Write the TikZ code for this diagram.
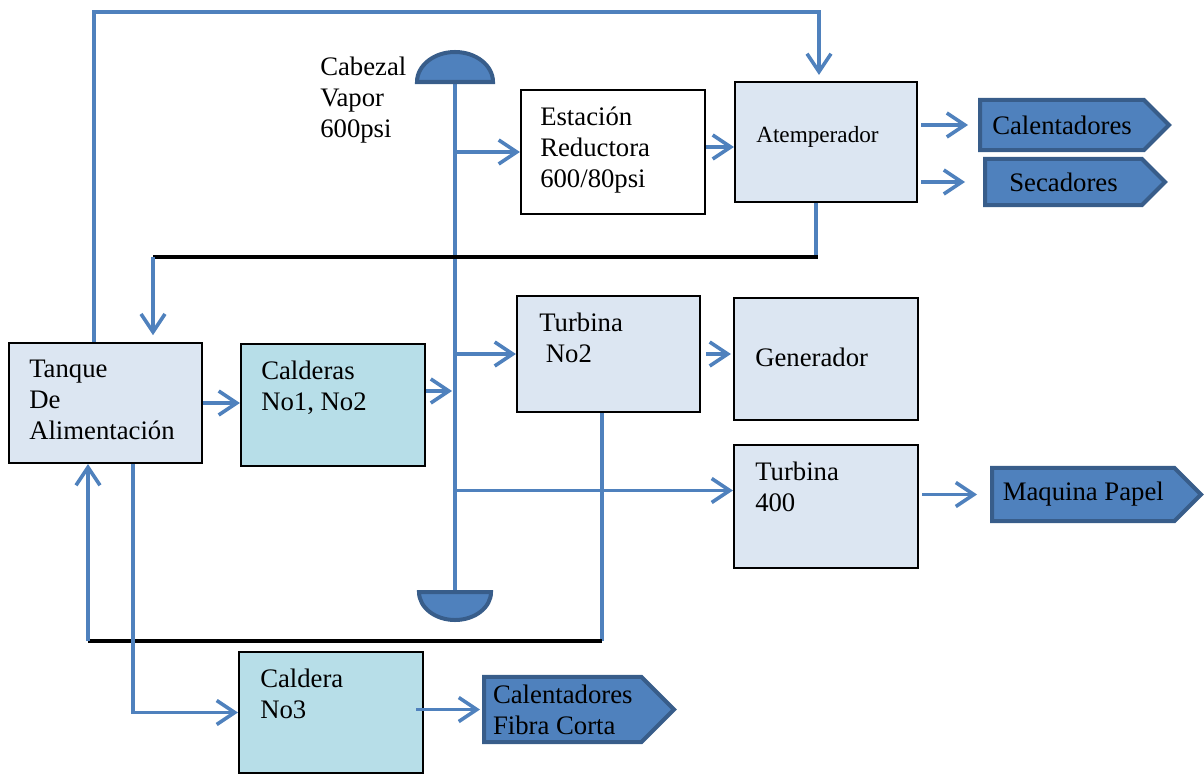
\documentclass[tikz,border=0pt]{standalone}
\usepackage{fontspec}
\setmainfont{Liberation Serif}
\usepackage{tikz}
\usetikzlibrary{arrows.meta,shapes.symbols}
\definecolor{flowblue}{HTML}{4F81BD}
\definecolor{boxfill}{HTML}{DCE6F2}
\definecolor{tealfill}{HTML}{B7DEE8}
\definecolor{sigfill}{HTML}{4F81BD}
\definecolor{sigedge}{HTML}{385D8A}
\newcommand{\boxfont}{\fontsize{19}{22}\selectfont}
\newcommand{\smallboxfont}{\fontsize{16.5}{20}\selectfont}
\tikzset{>={Straight Barb[length=0.45cm,width=0.6cm]}}
\tikzset{
  box/.style={draw=black, line width=0.05cm, fill=boxfill},
  tealbox/.style={box, fill=tealfill},
  txt/.style={inner sep=0pt, align=left, anchor=north west, font=\boxfont},
  flow/.style={draw=flowblue, line width=0.09cm},
  pipe/.style={draw=black, line width=0.1cm},
  dome/.style={draw=sigedge, fill=sigfill, line width=0.1cm},
  outlet/.style={signal, signal to=east, signal pointer angle=90, draw=sigedge,
    fill=sigfill, line width=0.1cm, font=\boxfont, inner sep=0pt, align=left}
}

\begin{document}
\begin{tikzpicture}[x=0.025cm,y=-0.025cm]
  \useasboundingbox (0,0) rectangle (1204,775);
  % boxes
  \node[box, minimum width=4.825cm, minimum height=3cm] (tanque) at (105.5,403) {};
  \node[tealbox, minimum width=4.6cm, minimum height=3.05cm] (calderas) at (333,405) {};
  \node[tealbox, minimum width=4.6cm, minimum height=3.025cm] (caldera3) at (331,712.5) {};
  \node[box, fill=white, minimum width=4.6cm, minimum height=3.1cm] (estac) at (613,152) {};
  \node[box, minimum width=4.55cm, minimum height=3cm] (atemp) at (826,142) {};
  \node[box, minimum width=4.575cm, minimum height=2.9cm] (turb2) at (608.5,354) {};
  \node[box, minimum width=4.6cm, minimum height=3.05cm] (gener) at (826,359) {};
  \node[box, minimum width=4.6cm, minimum height=3.075cm] (turb400) at (826,506.5) {};
  % box texts
  \node[txt] (tanque-t) at ([shift={(21,18)}]tanque.north west) {Tanque\\De\\Alimentación};
  \node[txt] (calderas-t) at ([shift={(21,18)}]calderas.north west) {Calderas\\No1, No2};
  \node[txt] (caldera3-t) at ([shift={(22,18)}]caldera3.north west) {Caldera\\No3};
  \node[txt] (estac-t) at ([shift={(20,18)}]estac.north west) {Estación\\Reductora\\600/80psi};
  \node[txt, anchor=west, font=\smallboxfont] (atemp-t) at ([shift={(22,-5)}]atemp.west) {Atemperador};
  \node[txt] (turb2-t) at ([shift={(23,18)}]turb2.north west) {Turbina\\\ No2};
  \node[txt, anchor=west] (gener-t) at ([shift={(22,-2)}]gener.west) {Generador};
  \node[txt] (turb400-t) at ([shift={(22,18)}]turb400.north west) {Turbina\\400};
  \node[txt] (cabezal) at (320,57) {Cabezal\\Vapor\\600psi};
  % outlets
  \node[outlet, minimum width=4.725cm, minimum height=1.25cm, anchor=west] (calent) at (978,125) {Calentadores};
  \node[outlet, minimum width=4.5cm, minimum height=1.15cm, anchor=west] (secad) at (983,182) {Secadores};
  \node[outlet, minimum width=5.225cm, minimum height=1.325cm, anchor=west] (maquina) at (990,494.5) {Maquina Papel};
  \node[outlet, minimum width=4.75cm, minimum height=1.625cm, anchor=west] (fibra) at (482,709.5) {Calentadores\\Fibra Corta};
  % header
  \coordinate (hdr-top) at (455,82);
  \coordinate (hdr-bot) at (455,592);
  \draw[flow] (hdr-top) -- (hdr-bot);
  \draw[dome] (417,82) arc[start angle=180,end angle=0,x radius=0.95cm,y radius=0.75cm] -- cycle;
  \draw[dome] (419,592) arc[start angle=180,end angle=360,x radius=0.9cm,y radius=0.7cm] -- cycle;
  % routing points
  \coordinate (top-l) at (94,12);
  \coordinate (top-r) at (819,12);
  \coordinate (ret-l) at (153,257);
  \coordinate (ret-r) at (816,257);
  \coordinate (low-l) at (88,641);
  \coordinate (low-r) at (602,641);
  \coordinate (c3-bend) at (133,712);
  \coordinate (cal-out) at ([yshift=0.35cm]calderas.east);
  \coordinate (est-out) at ([yshift=0.125cm]estac.east);
  \coordinate (t400-in) at ([yshift=0.4cm]turb400.west);
  % connectors
  \draw[flow,->,shorten >=0.15cm] (tanque.north -| top-l) -- (top-l) -- (top-r) -- (atemp.north -| top-r);
  \draw[flow] (atemp.south -| ret-r) -- (ret-r);
  \draw[pipe] (ret-l) -- ([xshift=0.05cm]ret-r);
  \draw[flow,->,shorten >=0.17cm] (ret-l) -- (tanque.north -| ret-l);
  \draw[flow,->] (estac.west -| hdr-top) -- (estac.west);
  \draw[flow,->] (turb2.west -| hdr-top) -- (turb2.west);
  \draw[flow,->] (t400-in -| hdr-top) -- (t400-in);
  \draw[flow,->] (tanque.east) -- (tanque.east -| calderas.west);
  \draw[flow,->,shorten >=0.075cm] (cal-out) -- (cal-out -| hdr-top);
  \draw[flow,->] (est-out) -- (est-out -| atemp.west);
  \draw[flow,->,shorten <=0.075cm,shorten >=0.25cm] (calent.west -| atemp.east) -- (calent.west);
  \draw[flow,->,shorten <=0.075cm,shorten >=0.45cm] (secad.west -| atemp.east) -- (secad.west);
  \draw[flow,->,shorten <=0.125cm,shorten >=0.05cm] (turb2.east) -- (turb2.east -| gener.west);
  \draw[flow,->,shorten <=0.075cm,shorten >=0.325cm] (maquina.west -| turb400.east) -- (maquina.west);
  \draw[flow] (turb2.south -| low-r) -- (low-r);
  \draw[pipe] (low-l) -- (low-r);
  \draw[flow,->] (low-l) -- (tanque.south -| low-l);
  \draw[flow,->] (tanque.south -| c3-bend) |- (caldera3.west);
  \draw[flow,->,shorten <=-0.2cm,shorten >=0.05cm] (fibra.west -| caldera3.east) -- (fibra.west);
\end{tikzpicture}
\end{document}
